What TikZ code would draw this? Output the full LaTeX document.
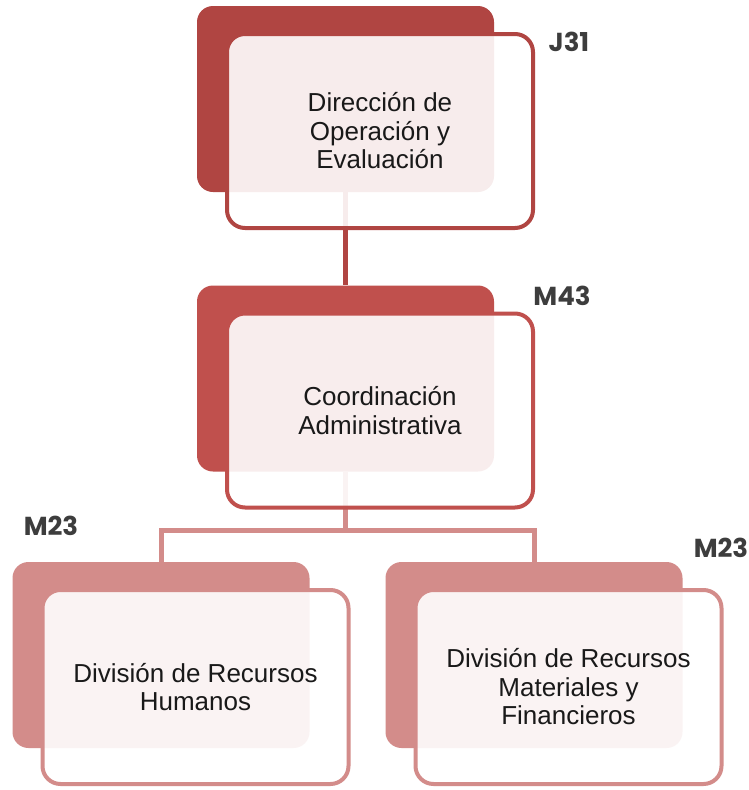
\documentclass[tikz,border=0pt]{standalone}
\usepackage{fontspec}
\setmainfont{Liberation Sans}
\newfontfamily\levelfont{Poppins}
\usetikzlibrary{positioning,backgrounds}

\definecolor{topred}{HTML}{B04542}
\definecolor{midred}{HTML}{C0504D}
\definecolor{lowred}{HTML}{D38C8A}
\definecolor{levelgray}{HTML}{3D3D3D}

\tikzset{
  backbox/.style={fill=#1, rounded corners=16pt, minimum width=297pt, minimum height=186pt, inner sep=0pt},
  frontbox/.style={draw=#1, fill=white, fill opacity=0.9, text opacity=1, line width=4pt,
    rounded corners=18pt, minimum width=306pt, minimum height=194pt, inner sep=0pt,
    align=center, text=black!90, font=\fontsize{26}{28.5}\selectfont, xshift=34.5pt, yshift=-32pt},
  levelcode/.style={font=\levelfont\bfseries\fontsize{26}{26}\selectfont, text=levelgray},
  link/.style={line width=5pt}
}

\begin{document}
\begin{tikzpicture}[x=1pt,y=-1pt]
\useasboundingbox (0,0) rectangle (749,790);
% Direction
\node[backbox=topred] (dir) at (345.5,99) {};
\node[frontbox=topred] (dirf) at (dir) {Dirección de\\Operación y\\Evaluación};
\node[levelcode] (jdir) at (569,42) {J31};
% Coordination
\node[backbox=midred] (coord) at (345.5,378.5) {};
\node[frontbox=midred] (coordf) at (coord) {Coordinación\\Administrativa};
\node[levelcode] (mcoord) at (562,296) {M43};
% Divisions
\node[backbox=lowred] (rh) at (161,655) {};
\node[frontbox=lowred] (rhf) at (rh) {División de Recursos\\Humanos};
\node[levelcode] (mrh) at (51,526) {M23};
\node[backbox=lowred] (rm) at (534,655) {};
\node[frontbox=lowred] (rmf) at (rm) {División de Recursos\\Materiales y\\Financieros};
\node[levelcode] (mrm) at (721,548) {M23};
% Connectors behind the boxes
\begin{scope}[on background layer]
\fill[white] (0,0) rectangle (749,790);
\draw[link, topred] (dir.south) -- (coord.north);
\coordinate (split) at (345.5,530);
\draw[link, lowred] (coord.south) -- (split) -| (rh.north);
\draw[link, lowred] (split) -| (rm.north);
\end{scope}
\end{tikzpicture}
\end{document}
